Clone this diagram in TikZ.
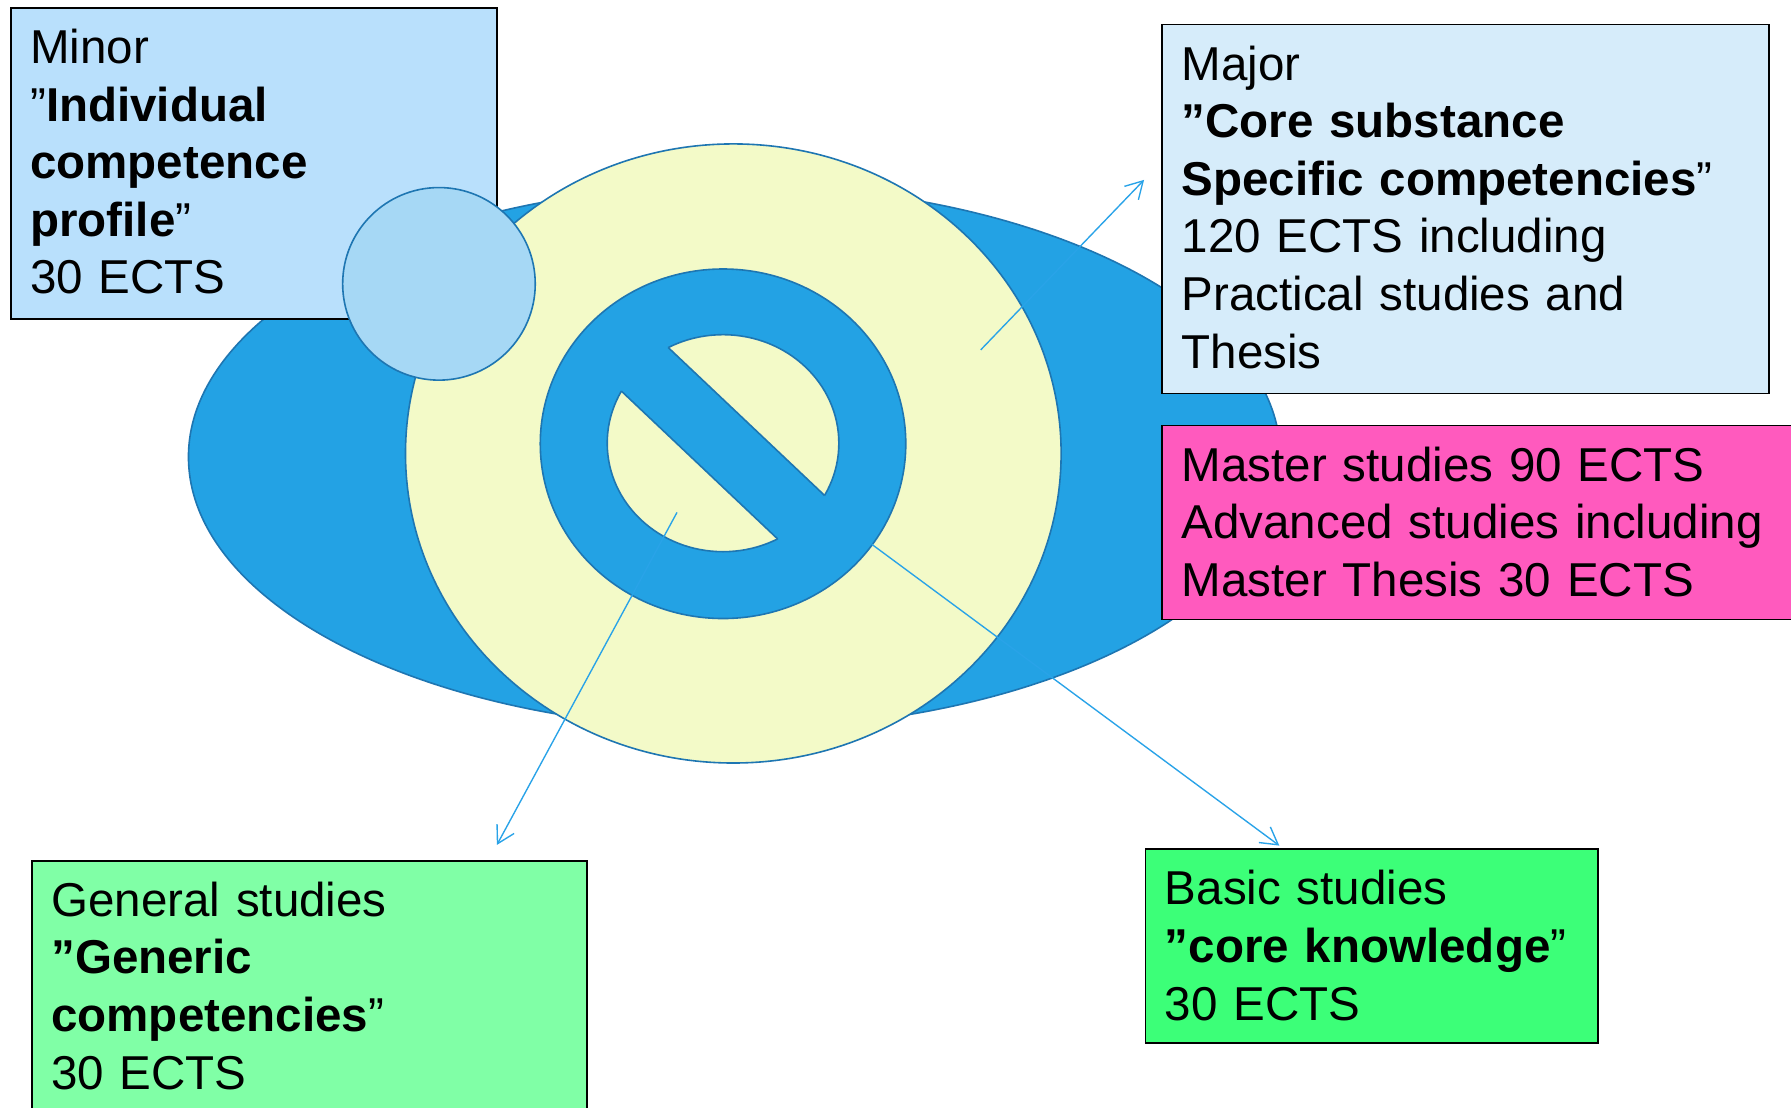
\documentclass[tikz,border=0pt]{standalone}
\usepackage{fontspec}
\setmainfont{Liberation Sans}
\usetikzlibrary{arrows.meta}

\definecolor{ringblue}{RGB}{35,162,228}
\definecolor{edgeblue}{RGB}{30,118,178}
\definecolor{paleyellow}{RGB}{243,250,200}
\definecolor{dotblue}{RGB}{166,216,245}
\definecolor{minorblue}{RGB}{185,224,252}
\definecolor{majorblue}{RGB}{214,236,250}
\definecolor{masterpink}{RGB}{255,90,190}
\definecolor{generalgreen}{RGB}{128,255,166}
\definecolor{basicgreen}{RGB}{60,255,120}
\definecolor{arrowblue}{RGB}{41,163,232}

\tikzset{
  box/.style={draw=black, line width=0.8pt, anchor=north west, inner sep=0pt},
  boxtext/.style={anchor=base west, align=left, inner sep=0pt, text width=262pt,
    font=\fontsize{20.8}{25.2}\selectfont},
  blob/.style={draw=edgeblue, line width=0.7pt},
  pointer/.style={draw=arrowblue, line width=0.6pt,
    -{Straight Barb[length=7.4pt,width=8.5pt]}}
}

\begin{document}
\begin{tikzpicture}[x=0.5pt, y=-0.5pt]
  \useasboundingbox (0,0) rectangle (1568,970);
  \fill[white] (0,0) rectangle (1568,970);

  \draw[blob, fill=ringblue] (643,400) ellipse [x radius=478, y radius=238];
  \draw[blob, fill=paleyellow] (642,397) ellipse [x radius=287, y radius=271];
  \draw[blob, fill=ringblue] (633,388.5) ellipse [x radius=160, y radius=153];
  \draw[blob, fill=paleyellow] (633,388) ellipse [x radius=101.4, y radius=95];
  \fill[ringblue] (561.6,282.1) -- (743.2,453.9) -- (704.8,494.5) -- (523.2,322.7) -- cycle;
  \begin{scope}
    \clip (633,388) ellipse [x radius=101.4, y radius=95];
    \draw[blob] (561.6,282.1) -- (743.2,453.9);
    \draw[blob] (523.2,322.7) -- (704.8,494.5);
  \end{scope}

  \node[box, fill=minorblue, minimum width=212.8pt, minimum height=136pt] (minor) at (8.6,6.2) {};
  \node[box, fill=majorblue, minimum width=265.7pt, minimum height=161.5pt] (major) at (1016.6,20.7) {};
  \node[box, fill=masterpink, minimum width=279.2pt, minimum height=84.9pt] (master) at (1016.6,371.7) {};
  \node[box, fill=generalgreen, minimum width=243pt, minimum height=113.6pt] (general) at (27,752.8) {};
  \node[box, fill=basicgreen, minimum width=198pt, minimum height=84.9pt] (basic) at (1002,742.8) {};

  \node[boxtext] (minortext) at ([shift={(17.5,49.5)}]minor.north west)
    {Minor\\”\textbf{Individual}\\\textbf{competence}\\\textbf{profile}”\\30 ECTS};
  \node[boxtext] (majortext) at ([shift={(17.5,49.5)}]major.north west)
    {Major\\\textbf{”Core substance}\\\textbf{Specific competencies}”\\120 ECTS including\\Practical studies and\\Thesis};
  \node[boxtext] (mastertext) at ([shift={(17.5,49.5)}]master.north west)
    {Master studies 90 ECTS\\Advanced studies including\\Master Thesis 30 ECTS};
  \node[boxtext] (generaltext) at ([shift={(17.5,49.5)}]general.north west)
    {General studies\\\textbf{”Generic}\\\textbf{competencies}”\\30 ECTS};
  \node[boxtext] (basictext) at ([shift={(17.5,49.5)}]basic.north west)
    {Basic studies\\\textbf{”core knowledge}”\\30 ECTS};

  \draw[blob, fill=dotblue] (384.3,248.5) circle [radius=84.3];

  \coordinate (majortail) at (858.6,306.3);
  \coordinate (majortip) at (1001.6,157.5);
  \coordinate (generaltail) at (592.7,448.6);
  \coordinate (generaltip) at (435,739.7);
  \coordinate (basictail) at (763.2,476.5);
  \coordinate (basictip) at (1120,740.3);
  \draw[pointer] (majortail) -- (majortip);
  \draw[pointer] (generaltail) -- (generaltip);
  \draw[pointer] (basictail) -- (basictip);
\end{tikzpicture}
\end{document}
